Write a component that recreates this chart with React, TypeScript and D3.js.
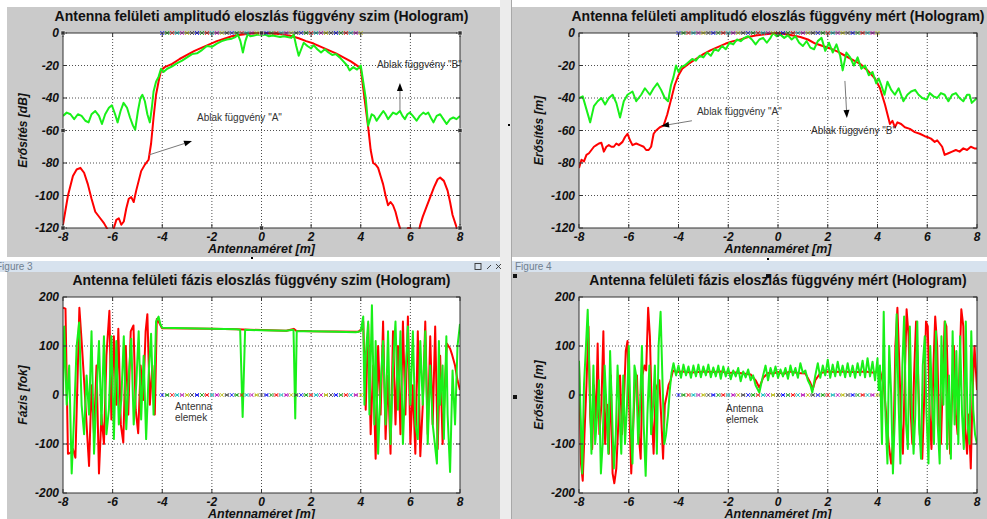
import React from 'react';
import * as d3 from 'd3';

type Pt = [number, number];

const xTicks = [-8, -6, -4, -2, 0, 2, 4, 6, 8];
const ampTicks = [0, -20, -40, -60, -80, -100, -120];
const phaseTicks = [200, 100, 0, -100, -200];

// amplitude, simulated
const ampSimA: Pt[] = [
  [-8, -118], [-7.8, -100], [-7.6, -88], [-7.45, -84], [-7.3, -83], [-7.15, -86], [-7.0, -93], [-6.85, -102],
  [-6.7, -110], [-6.5, -114], [-6.35, -117], [-6.2, -121], [-6.05, -126], [-5.95, -120], [-5.85, -115],
  [-5.75, -114], [-5.65, -118], [-5.55, -116], [-5.45, -108], [-5.35, -102], [-5.25, -101], [-5.15, -104],
  [-5.05, -97], [-4.95, -91], [-4.85, -85], [-4.7, -81], [-4.55, -78], [-4.45, -68], [-4.35, -52], [-4.25, -38],
  [-4.15, -30], [-4.05, -23], [-3.9, -21], [-3.6, -19], [-3.3, -16], [-3.0, -13.5], [-2.7, -11], [-2.4, -9],
  [-2.1, -7], [-1.8, -5], [-1.5, -3.5], [-1.2, -2], [-0.9, -1.2], [-0.6, -0.6], [-0.3, -0.2], [0, 0], [0.3, -0.2],
  [0.6, -0.5], [0.9, -1], [1.2, -1.8], [1.5, -3.2], [1.8, -5], [2.1, -6.5], [2.4, -8.5], [2.7, -10.5], [3.0, -12.5],
  [3.3, -15], [3.6, -17.5], [3.9, -20.5], [4.0, -22], [4.1, -34], [4.2, -46], [4.3, -58], [4.4, -72], [4.5, -80],
  [4.6, -81], [4.7, -83], [4.8, -88], [4.9, -93], [5.0, -100], [5.1, -106], [5.2, -104], [5.3, -106], [5.4, -110],
  [5.5, -116], [5.6, -121], [5.8, -125], [5.9, -120], [6.0, -120], [6.1, -125], [6.3, -125], [6.4, -118],
  [6.5, -113], [6.65, -107], [6.8, -101], [6.95, -95], [7.1, -90], [7.2, -89], [7.35, -91], [7.5, -97],
  [7.6, -104], [7.7, -112], [7.85, -119], [7.95, -126],
];

const ampSimB: Pt[] = [
  [-8, -51], [-7.85, -49], [-7.7, -50], [-7.55, -53], [-7.4, -50], [-7.25, -51], [-7.1, -54], [-6.97, -55],
  [-6.85, -50], [-6.7, -48], [-6.55, -51], [-6.43, -56], [-6.3, -50], [-6.15, -46], [-6.03, -44.5], [-5.9, -50],
  [-5.8, -55], [-5.68, -48], [-5.56, -43], [-5.42, -46], [-5.3, -52], [-5.18, -57], [-5.09, -59.5], [-4.98, -48],
  [-4.88, -40], [-4.8, -38], [-4.7, -42], [-4.6, -50], [-4.5, -55], [-4.42, -46], [-4.35, -36], [-4.25, -30],
  [-4.15, -27], [-4.05, -22], [-3.95, -24], [-3.8, -22], [-3.6, -20.5], [-3.4, -18.5], [-3.2, -17], [-3.0, -15],
  [-2.8, -13], [-2.6, -12.5], [-2.4, -10.5], [-2.2, -8], [-2.0, -8.5], [-1.8, -6.5], [-1.6, -5], [-1.4, -4],
  [-1.2, -3.5], [-1.05, -2.5], [-0.95, -1], [-0.85, -5], [-0.75, -12], [-0.65, -5], [-0.55, -0.5], [-0.45, -2],
  [-0.3, -1.5], [-0.15, -1], [0, -1.5], [0.15, -1], [0.3, -2], [0.45, -1.5], [0.6, -2], [0.75, -2.5], [0.9, -2],
  [1.05, -2.5], [1.2, -3], [1.3, -1], [1.4, -8], [1.5, -14], [1.6, -10], [1.7, -6], [1.85, -8], [2.0, -9.5],
  [2.1, -7.5], [2.25, -10], [2.4, -12], [2.55, -10], [2.7, -12], [2.85, -13.5], [3.0, -13], [3.15, -15],
  [3.3, -17.5], [3.45, -20], [3.55, -23], [3.7, -21], [3.85, -22.5], [4.0, -20], [4.1, -30], [4.2, -40],
  [4.3, -57], [4.44, -50], [4.54, -51], [4.64, -54], [4.77, -51], [4.91, -48], [5.0, -50], [5.1, -53], [5.2, -51],
  [5.3, -49], [5.44, -50], [5.58, -48], [5.68, -51], [5.78, -53], [5.88, -50], [5.98, -49], [6.1, -51],
  [6.25, -54], [6.38, -51], [6.52, -49], [6.62, -50], [6.72, -49], [6.82, -52], [6.93, -55], [7.06, -51],
  [7.2, -50], [7.33, -53], [7.46, -56], [7.6, -53], [7.73, -52], [7.86, -53], [8, -51],
];

// amplitude, measured
const ampMeasA: Pt[] = [
  [-8, -83], [-7.9, -78], [-7.8, -79], [-7.7, -75], [-7.6, -74], [-7.5, -72], [-7.4, -70], [-7.3, -69],
  [-7.2, -68], [-7.1, -67.5], [-7.0, -73], [-6.9, -70], [-6.8, -69], [-6.7, -70], [-6.6, -70], [-6.5, -68],
  [-6.4, -69], [-6.25, -67], [-6.15, -64], [-6.05, -62], [-5.95, -66], [-5.85, -69], [-5.7, -68], [-5.55, -69],
  [-5.4, -70], [-5.3, -72], [-5.2, -72], [-5.1, -70], [-5.0, -62], [-4.9, -60], [-4.75, -58], [-4.6, -57],
  [-4.45, -50], [-4.3, -41], [-4.15, -32], [-4.0, -26], [-3.85, -22], [-3.6, -19], [-3.3, -16], [-3.0, -13],
  [-2.7, -10.5], [-2.4, -8.5], [-2.1, -6.5], [-1.8, -5], [-1.5, -4], [-1.2, -2.5], [-0.9, -1.5], [-0.6, -1],
  [-0.3, -0.5], [0, 0], [0.3, -0.8], [0.6, -1.5], [0.9, -2.5], [1.2, -4], [1.5, -6.5], [1.8, -8], [2.1, -9.5],
  [2.4, -11.5], [2.7, -14], [3.0, -16.5], [3.3, -19], [3.6, -23], [3.9, -28], [4.1, -34], [4.3, -44], [4.5, -56],
  [4.6, -54], [4.7, -58], [4.8, -55], [4.95, -56], [5.1, -58], [5.3, -59], [5.5, -61], [5.7, -62], [5.9, -63.5],
  [6.0, -64], [6.15, -65], [6.3, -67], [6.4, -66], [6.5, -68], [6.6, -70], [6.7, -75], [6.85, -74], [7.0, -73],
  [7.15, -72], [7.3, -73], [7.45, -71], [7.6, -72], [7.75, -70], [7.9, -71], [8, -71],
];

const ampMeasB: Pt[] = [
  [-8, -40], [-7.85, -39], [-7.7, -47], [-7.55, -55], [-7.4, -45], [-7.25, -42], [-7.1, -40], [-6.95, -44],
  [-6.8, -40], [-6.65, -38], [-6.5, -43], [-6.35, -52], [-6.2, -42], [-6.05, -38], [-5.85, -36], [-5.7, -42],
  [-5.5, -38], [-5.35, -34], [-5.15, -38], [-5.0, -34], [-4.85, -31], [-4.7, -35], [-4.55, -40], [-4.42, -42],
  [-4.3, -32], [-4.2, -27], [-4.1, -20], [-4.0, -24], [-3.9, -21], [-3.75, -20], [-3.6, -18], [-3.45, -16],
  [-3.3, -17], [-3.15, -14], [-3.0, -15], [-2.85, -12], [-2.7, -14], [-2.55, -10], [-2.4, -11], [-2.25, -8],
  [-2.1, -10], [-1.95, -6], [-1.8, -7], [-1.65, -4], [-1.5, -5], [-1.35, -3], [-1.2, -2], [-1.05, -4], [-0.9, -7],
  [-0.75, -4], [-0.6, -3], [-0.45, -6], [-0.3, -3], [-0.2, 0], [-0.05, -2], [0.1, -1], [0.25, -3], [0.4, -1.5],
  [0.55, -4], [0.7, -2], [0.85, -6], [1.0, -8], [1.15, -5], [1.3, -9], [1.45, -10], [1.6, -5], [1.75, -3],
  [1.9, -11], [2.05, -6], [2.2, -12], [2.35, -7], [2.5, -14], [2.6, -23], [2.75, -12], [2.9, -15], [3.05, -20],
  [3.2, -15], [3.35, -22], [3.5, -20], [3.65, -26], [3.8, -24], [3.95, -31], [4.05, -28], [4.15, -32],
  [4.28, -38], [4.4, -30], [4.55, -35], [4.7, -38], [4.85, -34], [5.04, -42], [5.2, -38], [5.35, -36],
  [5.51, -35], [5.65, -38], [5.8, -40], [5.98, -41], [6.1, -37], [6.25, -39], [6.4, -40], [6.55, -37],
  [6.7, -38], [6.85, -42], [7.0, -38], [7.15, -37], [7.3, -40], [7.45, -42], [7.6, -38], [7.7, -38],
  [7.79, -43], [8, -40],
];

// phase, simulated
const phaseSimA: Pt[] = [
  [-8, 178], [-7.9, 176], [-7.8, -120], [-7.7, -118], [-7.6, -110], [-7.5, -128], [-7.4, 60], [-7.34, 178],
  [-7.25, 110], [-7.15, 30], [-7.05, -60], [-6.95, -145], [-6.85, 20], [-6.75, -80], [-6.65, 60], [-6.55, -160],
  [-6.45, -40], [-6.35, -100], [-6.25, 80], [-6.13, 172], [-6.05, -50], [-5.95, 120], [-5.85, -20], [-5.77, 135],
  [-5.67, -60], [-5.57, -97], [-5.47, 100], [-5.37, -40], [-5.27, 130], [-5.16, 142], [-5.07, -30], [-4.97, -78],
  [-4.87, 60], [-4.77, -10], [-4.67, 130], [-4.6, 165], [-4.5, -20], [-4.4, 60], [-4.3, -40], [-4.22, 155],
  [-4.15, 150], [-4.05, 140], [-4, 136], [-3, 135.5], [-2, 135], [-1, 134], [0, 132.5], [1, 131], [1.3, 135],
  [1.4, 131], [2, 130], [3, 129.5], [3.9, 129], [4.05, 135], [4.1, 150], [4.2, -30], [4.3, 145], [4.4, -80],
  [4.5, 60], [4.6, -130], [4.7, 100], [4.8, -40], [4.9, 150], [5.0, -90], [5.1, 40], [5.2, -120], [5.3, 130],
  [5.4, -60], [5.5, 100], [5.6, -80], [5.7, 150], [5.8, -40], [5.9, 160], [6.0, -100], [6.1, 20], [6.2, -120],
  [6.3, 130], [6.4, -125], [6.5, -20], [6.6, 150], [6.7, -80], [6.8, 120], [6.9, -60], [7.0, 140], [7.1, -110],
  [7.2, 80], [7.3, -100], [7.4, 30], [7.47, 105], [7.6, 95], [7.67, 84], [7.8, 60], [7.9, 30], [8, 10],
];

const phaseSimB: Pt[] = [
  [-8, 0], [-7.95, 140], [-7.85, -20], [-7.75, 60], [-7.65, -160], [-7.55, -40], [-7.45, 100], [-7.35, 148],
  [-7.25, -20], [-7.15, -80], [-7.05, 40], [-6.95, -40], [-6.85, 130], [-6.75, -120], [-6.65, 0], [-6.55, 110],
  [-6.45, -60], [-6.35, 120], [-6.25, -80], [-6.15, -30], [-6.05, 120], [-5.95, -90], [-5.85, 110], [-5.75, -60],
  [-5.65, -10], [-5.55, 120], [-5.45, -70], [-5.35, 40], [-5.25, 115], [-5.15, -60], [-5.05, 20], [-4.95, 130],
  [-4.85, -50], [-4.75, 80], [-4.65, -90], [-4.55, 40], [-4.45, 125], [-4.35, -40], [-4.25, 150], [-4.15, 160],
  [-4.08, 145], [-4.0, 137], [-3, 136], [-2, 135], [-1, 134], [-0.86, 133], [-0.76, -45], [-0.66, 133], [0, 132],
  [1, 131], [1.29, 133], [1.36, -48], [1.42, 130], [2, 130], [3, 129], [3.8, 128], [4.0, 130], [4.05, 145],
  [4.1, 160], [4.15, -20], [4.2, 80], [4.3, 150], [4.35, -40], [4.45, 183], [4.55, -60], [4.6, 110], [4.7, -120],
  [4.8, 20], [4.9, 110], [5.0, -60], [5.1, 130], [5.2, -100], [5.3, 60], [5.4, 150], [5.5, -30], [5.6, 130],
  [5.7, -100], [5.8, 40], [5.9, 140], [6.0, -20], [6.1, 130], [6.2, -60], [6.3, -90], [6.4, 110], [6.5, -20],
  [6.6, 130], [6.7, -100], [6.8, 60], [6.9, -60], [7.07, -140], [7.15, 110], [7.2, -20], [7.3, 60], [7.35, -90],
  [7.45, 120], [7.5, -40], [7.6, -157], [7.7, 50], [7.8, -60], [7.9, 100], [8, 145],
];

// phase, measured
const phaseMeasA: Pt[] = [
  [-8, 60], [-7.92, -140], [-7.85, -175], [-7.78, -80], [-7.7, 20], [-7.62, 140], [-7.55, -40], [-7.47, -110],
  [-7.4, 20], [-7.32, -60], [-7.25, 105], [-7.18, -80], [-7.1, -20], [-7.02, 130], [-6.95, -100], [-6.87, -20],
  [-6.8, -120], [-6.72, 40], [-6.65, -160], [-6.58, -180], [-6.5, -150], [-6.42, -60], [-6.35, 40], [-6.27, -80],
  [-6.2, -20], [-6.12, 90], [-6.05, 110], [-5.97, -40], [-5.9, -160], [-5.82, -60], [-5.75, 20], [-5.67, 40],
  [-5.6, -80], [-5.52, -130], [-5.45, 40], [-5.37, 60], [-5.3, 50], [-5.22, 178], [-5.15, 120], [-5.07, -40],
  [-5.0, -120], [-4.92, 10], [-4.85, 20], [-4.77, 30], [-4.7, -40], [-4.62, -130], [-4.55, -20], [-4.47, 0],
  [-4.4, 20], [-4.32, 30], [-4.22, 50], [-4.1, 47], [-3.8, 48], [-3.5, 46], [-3.2, 47], [-2.9, 48], [-2.6, 47],
  [-2.3, 48], [-2.0, 45], [-1.7, 46], [-1.4, 44], [-1.1, 42], [-0.9, 30], [-0.75, 15], [-0.6, 35], [-0.4, 45],
  [-0.2, 44], [0, 47], [0.2, 43], [0.5, 48], [0.8, 45], [1.1, 44], [1.3, 25], [1.4, 12], [1.5, 30], [1.7, 45],
  [2.0, 48], [2.3, 47], [2.6, 48], [2.9, 47], [3.2, 47], [3.5, 48], [3.8, 46], [4.0, 47], [4.1, 50], [4.25, 20],
  [4.35, -40], [4.45, -100], [4.55, -140], [4.65, -80], [4.72, 100], [4.8, 178], [4.88, 60], [4.95, -60],
  [5.02, -120], [5.1, 40], [5.17, 175], [5.25, 120], [5.32, -20], [5.4, -100], [5.47, 40], [5.55, 150],
  [5.62, 60], [5.7, -80], [5.8, -130], [5.87, -20], [5.95, 150], [6.02, 140], [6.1, -40], [6.17, -110],
  [6.25, 60], [6.32, 160], [6.4, 100], [6.47, -60], [6.55, -100], [6.62, 20], [6.7, 150], [6.77, 140],
  [6.85, -20], [6.92, -120], [7.0, 0], [7.07, 100], [7.15, -40], [7.22, -80], [7.3, 60], [7.37, 175],
  [7.45, 140], [7.52, -60], [7.6, -120], [7.67, -40], [7.75, -150], [7.82, 0], [7.9, 100], [8, 10],
];

const phaseMeasB: Pt[] = [
  [-8, 70], [-7.93, -50], [-7.87, -160], [-7.8, 20], [-7.72, 100], [-7.65, 174], [-7.57, 20], [-7.5, -120],
  [-7.42, 60], [-7.35, -100], [-7.27, -40], [-7.2, 30], [-7.12, -160], [-7.05, -100], [-6.97, 60], [-6.9, -20],
  [-6.82, -120], [-6.75, 90], [-6.67, -40], [-6.6, -150], [-6.52, -80], [-6.45, 60], [-6.37, -40], [-6.3, -120],
  [-6.22, 40], [-6.15, -100], [-6.07, -20], [-6.0, 100], [-5.92, -60], [-5.85, -140], [-5.77, 60], [-5.7, 40],
  [-5.62, -100], [-5.55, -30], [-5.47, 100], [-5.4, -60], [-5.32, -165], [-5.25, -40], [-5.17, 60], [-5.1, -80],
  [-5.02, -20], [-4.95, 60], [-4.87, -120], [-4.8, 100], [-4.72, 170], [-4.65, 40], [-4.57, -100], [-4.5, -80],
  [-4.42, -40], [-4.35, 10], [-4.28, 45], [-4.2, 65], [-4.1, 40], [-4.0, 60], [-3.9, 35], [-3.8, 62], [-3.7, 40],
  [-3.6, 58], [-3.5, 35], [-3.4, 60], [-3.3, 38], [-3.2, 62], [-3.1, 36], [-3.0, 58], [-2.9, 40], [-2.8, 62],
  [-2.7, 36], [-2.6, 56], [-2.5, 38], [-2.4, 60], [-2.3, 33], [-2.2, 58], [-2.1, 38], [-2.0, 55], [-1.9, 32],
  [-1.8, 50], [-1.7, 38], [-1.6, 55], [-1.5, 28], [-1.4, 48], [-1.3, 36], [-1.2, 52], [-1.1, 30], [-1.0, 40],
  [-0.9, 20], [-0.75, 5], [-0.6, 40], [-0.5, 60], [-0.4, 30], [-0.3, 55], [-0.2, 38], [-0.1, 58], [0, 35],
  [0.1, 52], [0.2, 38], [0.3, 55], [0.4, 33], [0.5, 60], [0.6, 40], [0.7, 55], [0.8, 35], [0.9, 65], [1.0, 45],
  [1.1, 50], [1.2, 30], [1.3, 20], [1.38, 5], [1.5, 40], [1.6, 65], [1.7, 35], [1.8, 60], [1.9, 40], [2.0, 72],
  [2.1, 35], [2.2, 62], [2.3, 38], [2.4, 68], [2.5, 40], [2.6, 60], [2.7, 36], [2.8, 65], [2.9, 38], [3.0, 60],
  [3.1, 35], [3.2, 65], [3.3, 40], [3.4, 70], [3.5, 36], [3.6, 75], [3.7, 38], [3.8, 68], [3.9, 30], [4.0, 75],
  [4.05, 10], [4.1, 60], [4.18, -100], [4.25, 170], [4.32, -40], [4.4, -140], [4.47, 100], [4.55, 0],
  [4.62, -160], [4.7, -40], [4.77, 165], [4.85, -20], [4.92, -140], [5.0, 60], [5.07, 160], [5.15, -60],
  [5.22, -110], [5.3, 140], [5.37, -20], [5.45, -120], [5.52, -40], [5.6, 150], [5.67, -60], [5.75, -130],
  [5.82, 60], [5.9, 120], [5.97, -40], [6.05, -140], [6.12, 100], [6.2, -20], [6.27, -100], [6.35, 130],
  [6.42, -60], [6.5, -140], [6.57, 120], [6.65, -20], [6.72, 150], [6.8, -110], [6.87, 40], [6.95, -130],
  [7.02, 130], [7.1, -60], [7.17, 90], [7.25, -100], [7.32, 120], [7.4, -40], [7.47, -110], [7.55, 150],
  [7.62, -60], [7.7, -100], [7.77, 130], [7.85, -30], [7.92, -80], [8, -100],
];

// antenna element positions (regular grid, 0.2 m pitch)
const elementX = d3.range(-20, 21).map(i => i / 5);
const elementColors = ['#0000ff', '#00a000', '#ff0000', '#00bfbf', '#bf00bf', '#bfbf00', '#404040'];

const FONT = '"Liberation Sans", Arial, sans-serif';
const RED = '#ff0000';
const GREEN = '#19f019';
const BG = '#cacaca';

type Note = { x: number; y: number; lines: string[] };
type Arr = { x1: number; y1: number; x2: number; y2: number };

const Arrow = ({ x1, y1, x2, y2 }) => {
  const a = Math.atan2(y2 - y1, x2 - x1);
  const L = 8, W = 3;
  const bx = x2 - L * Math.cos(a), by = y2 - L * Math.sin(a);
  const pts = [
    [x2, y2],
    [bx - W * Math.sin(a), by + W * Math.cos(a)],
    [bx + W * Math.sin(a), by - W * Math.cos(a)],
  ];
  return (
    <g>
      <line x1={x1} y1={y1} x2={bx} y2={by} stroke="#7a7a7a" strokeWidth={1} />
      <polygon points={pts.map(p => p.join(',')).join(' ')} fill="#000" />
    </g>
  );
};

const Panel = ({ id, x0, x1, y0, y1, yDomain, yTicks, title, yLabel, red, green, notes, arrows, handles }: any) => {
  const x = d3.scaleLinear().domain([-8, 8]).range([x0, x1]);
  const y = d3.scaleLinear().domain(yDomain).range([y1, y0]);
  const line = d3.line<Pt>().x(d => x(d[0])).y(d => y(d[1]));
  const tickFont = { fontFamily: FONT, fontSize: 12, fontWeight: 'bold' as const, fontStyle: 'italic' };

  return (
    <g>
      <defs>
        <clipPath id={`clip-${id}`}>
          <rect x={x0} y={y0 - 1} width={x1 - x0} height={y1 - y0 + 2} />
        </clipPath>
      </defs>
      <rect x={x0} y={y0} width={x1 - x0} height={y1 - y0} fill="#fff" />
      {xTicks.slice(1, -1).map(t => (
        <line key={`gx${t}`} x1={x(t)} x2={x(t)} y1={y0} y2={y1} stroke="#222" strokeWidth={0.8} strokeDasharray="1,2" />
      ))}
      {yTicks.slice(1, -1).map(t => (
        <line key={`gy${t}`} x1={x0} x2={x1} y1={y(t)} y2={y(t)} stroke="#222" strokeWidth={0.8} strokeDasharray="1,2" />
      ))}
      <g clipPath={`url(#clip-${id})`}>
        <path d={line(red) || ''} fill="none" stroke={RED} strokeWidth={2} strokeLinejoin="round" />
        <path d={line(green) || ''} fill="none" stroke={GREEN} strokeWidth={2} strokeLinejoin="round" />
      </g>
      {elementX.map((ex, i) => {
        const cx = x(ex), cy = y(0), r = 2;
        const c = elementColors[i % elementColors.length];
        return (
          <g key={`e${i}`} stroke={c} strokeWidth={0.8}>
            <line x1={cx - r} y1={cy - r} x2={cx + r} y2={cy + r} />
            <line x1={cx - r} y1={cy + r} x2={cx + r} y2={cy - r} />
            {i % 2 === 1 && <line x1={cx - r} y1={cy} x2={cx + r} y2={cy} />}
          </g>
        );
      })}
      <rect x={x0} y={y0} width={x1 - x0} height={y1 - y0} fill="none" stroke="#333" strokeWidth={1} />
      {xTicks.map(t => (
        <g key={`tx${t}`}>
          <line x1={x(t)} x2={x(t)} y1={y1} y2={y1 - 4} stroke="#333" />
          <line x1={x(t)} x2={x(t)} y1={y0} y2={y0 + 4} stroke="#333" />
          <text x={x(t)} y={y1 + 12.5} textAnchor="middle" style={tickFont} fill="#111">{t}</text>
        </g>
      ))}
      {yTicks.map(t => (
        <g key={`ty${t}`}>
          <line x1={x0} x2={x0 + 4} y1={y(t)} y2={y(t)} stroke="#333" />
          <line x1={x1} x2={x1 - 4} y1={y(t)} y2={y(t)} stroke="#333" />
          <text x={x0 - 4} y={y(t)} dy="0.36em" textAnchor="end" style={tickFont} fill="#111">{t}</text>
        </g>
      ))}
      <text x={(x0 + x1) / 2} y={y1 + 25} textAnchor="middle" style={{ ...tickFont, fontSize: 12.5 }} fill="#111">
        Antennaméret [m]
      </text>
      <text
        transform={`translate(${x0 - 36},${(y0 + y1) / 2}) rotate(-90)`}
        textAnchor="middle"
        style={{ ...tickFont, fontSize: 12 }}
        fill="#111"
      >
        {yLabel}
      </text>
      <text x={(x0 + x1) / 2} y={y0 - 12} textAnchor="middle" fontFamily={FONT} fontSize={14} fontWeight="bold" fill="#111">
        {title}
      </text>
      {(notes || []).map((n: Note, i: number) => (
        <text key={`n${i}`} x={x(n.x)} y={y(n.y)} fontFamily={FONT} fontSize={10} fill="#333">
          {n.lines.map((l, j) => (
            <tspan key={j} x={x(n.x)} dy={j === 0 ? 0 : 11}>{l}</tspan>
          ))}
        </text>
      ))}
      {(arrows || []).map((a: Arr, i: number) => (
        <Arrow key={`a${i}`} x1={x(a.x1)} y1={y(a.y1)} x2={x(a.x2)} y2={y(a.y2)} />
      ))}
      {handles && [[-8, yDomain[1]], [0, yDomain[1]], [8, yDomain[1]], [-8, (yDomain[0] + yDomain[1]) / 2],
        [8, (yDomain[0] + yDomain[1]) / 2], [-8, yDomain[0]], [0, yDomain[0]], [8, yDomain[0]]].map((h, i) => (
        <rect key={`h${i}`} x={x(h[0]) - 2} y={y(h[1]) - 2} width={4} height={4} fill="#333" stroke="#fff" strokeWidth={0.5} />
      ))}
    </g>
  );
};

const App = () => {
  const W = 987, H = 519;
  return (
    <div style={{ position: 'absolute', left: 0, top: 0 }}>
      <svg width={W} height={H} style={{ display: 'block' }}>
        <rect x={0} y={0} width={W} height={H} fill="#ffffff" />
        <rect x={7} y={7} width={493} height={250} fill={BG} />
        <rect x={512} y={7} width={475} height={250} fill={BG} />
        <rect x={500} y={0} width={12} height={H} fill="#ececec" />
        <line x1={511.5} x2={511.5} y1={0} y2={H} stroke="#a8a8a8" />
        <rect x={0} y={261} width={500} height={11} fill="#d7e2ee" />
        <rect x={512} y={261} width={475} height={11} fill="#d7e2ee" />
        <text x={-4} y={270} fontFamily={FONT} fontSize={10} fill="#708090">Figure 3</text>
        <text x={515} y={270} fontFamily={FONT} fontSize={10} fill="#708090">Figure 4</text>
        <g stroke="#333" fill="none" strokeWidth={0.9}>
          <rect x={475} y={263.5} width={6} height={6} />
          <line x1={487} y1={269} x2={491} y2={265} />
          <line x1={496} y1={264} x2={501} y2={269} />
          <line x1={496} y1={269} x2={501} y2={264} />
        </g>
        <rect x={7} y={272} width={493} height={H - 272} fill={BG} />
        <rect x={512} y={272} width={475} height={H - 272} fill={BG} />
        <rect x={251} y={257} width={2} height={2} fill="#000" />
        <rect x={767} y={258} width={2} height={2} fill="#000" />
        <rect x={508} y={124} width={2} height={2} fill="#000" />
        <rect x={513} y={274} width={4} height={4} fill="#111" />
        <rect x={766} y={274} width={4} height={4} fill="#111" />
        <rect x={513} y={395} width={4} height={4} fill="#111" />

        <Panel
          id="p1" x0={63} x1={460} y0={33} y1={228}
          yDomain={[-120, 0]} yTicks={ampTicks}
          title="Antenna felületi amplitudó eloszlás függvény szim (Hologram)"
          yLabel="Erősítés [dB]"
          red={ampSimA} green={ampSimB}
          notes={[
            { x: -2.6, y: -54, lines: ['Ablak függvény "A"'] },
            { x: 4.65, y: -21.5, lines: ['Ablak függvény "B"'] },
          ]}
          arrows={[
            { x1: -4.53, y1: -75, x2: -2.8, y2: -66.5 },
            { x1: 5.58, y1: -48, x2: 5.58, y2: -30.8 },
          ]}
          handles
        />
        <Panel
          id="p2" x0={579} x1={977} y0={33} y1={228}
          yDomain={[-120, 0]} yTicks={ampTicks}
          title="Antenna felületi amplitudó eloszlás függvény mért (Hologram)"
          yLabel="Erősítés [m]"
          red={ampMeasA} green={ampMeasB}
          notes={[
            { x: -3.26, y: -50.5, lines: ['Ablak függvény "A"'] },
            { x: 1.33, y: -62, lines: ['Ablak függvény "B"'] },
          ]}
          arrows={[
            { x1: -3.46, y1: -54, x2: -4.7, y2: -57.2 },
            { x1: 2.69, y1: -29.5, x2: 2.77, y2: -52.3 },
          ]}
        />
        <Panel
          id="p3" x0={63} x1={460} y0={297} y1={493}
          yDomain={[-200, 200]} yTicks={phaseTicks}
          title="Antenna felületi fázis eloszlás függvény szim (Hologram)"
          yLabel="Fázis [fok]"
          red={phaseSimA} green={phaseSimB}
          notes={[{ x: -3.49, y: -31, lines: ['Antenna', 'elemek'] }]}
        />
        <Panel
          id="p4" x0={579} x1={977} y0={297} y1={493}
          yDomain={[-200, 200]} yTicks={phaseTicks}
          title="Antenna felületi fázis eloszlás függvény mért (Hologram)"
          yLabel="Erősítés [m]"
          red={phaseMeasA} green={phaseMeasB}
          notes={[{ x: -2.09, y: -35, lines: ['Antenna', 'elemek'] }]}
        />
      </svg>
    </div>
  );
};

export default App;
